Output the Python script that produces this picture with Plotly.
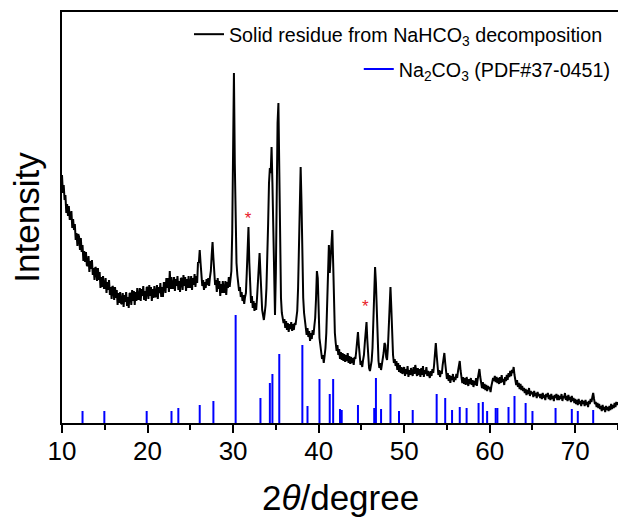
import plotly.graph_objects as go

# ---------------- data ----------------
# measured pattern, 2theta from 10.0 to 75.0 in 0.1 degree steps (intensity, arbitrary units)
intensity = [
    248, 230, 238, 223, 228, 210, 219, 207, 217, 204,   # 10
    204, 212, 195, 204, 193, 199, 183, 190, 177, 189,   # 11
    186, 173, 185, 171, 178, 162, 172, 161, 171, 158,   # 12
    157, 167, 151, 162, 154, 163, 148, 155, 143, 156,   # 13
    154, 142, 155, 143, 151, 135, 146, 136, 147, 135,   # 14
    135, 145, 130, 141, 133, 143, 128, 136, 124, 137,   # 15
    135, 123, 136, 125, 133, 118, 130, 120, 131, 120,   # 16
    119, 130, 116, 128, 121, 131, 117, 126, 115, 130,   # 17
    129, 118, 133, 122, 132, 118, 131, 122, 135, 124,   # 18
    124, 135, 122, 134, 127, 137, 123, 132, 122, 136,   # 19
    135, 124, 138, 127, 136, 122, 134, 125, 137, 126,   # 20
    127, 138, 124, 136, 130, 140, 126, 136, 126, 140,   # 21
    140, 130, 145, 135, 145, 131, 152, 134, 146, 135,   # 22
    135, 146, 132, 144, 137, 147, 133, 142, 131, 145,   # 23
    144, 133, 148, 137, 146, 132, 144, 135, 147, 136,   # 24
    136, 147, 133, 145, 138, 149, 136, 147, 140, 161,   # 25
    160, 173, 160, 146, 137, 143, 133, 141, 135, 144,   # 26
    138, 145, 137, 146, 152, 168, 181, 165, 148, 138,   # 27
    143, 131, 145, 134, 142, 127, 139, 130, 142, 131,   # 28
    131, 142, 128, 141, 135, 146, 136, 147, 152, 190,   # 29
    300, 350, 260, 190, 160, 148, 140, 132, 136, 126,   # 30
    131, 122, 128, 119, 126, 130, 150, 178, 196, 160,   # 31
    132, 120, 127, 115, 122, 112, 120, 113, 125, 140,   # 32
    160, 170, 150, 128, 113, 108, 103, 110, 118, 135,   # 33
    160, 200, 240, 255, 250, 276, 240, 180, 140, 108,   # 34
    150, 230, 300, 320, 250, 170, 125, 110, 104, 100,   # 35
    104, 95, 102, 93, 100, 91, 99, 94, 101, 92,         # 36
    99, 93, 100, 98, 105, 112, 135, 190, 240, 256,      # 37
    220, 160, 125, 110, 100, 95, 88, 95, 86, 92,        # 38
    82, 90, 84, 93, 88, 97, 105, 125, 152, 145,         # 39
    110, 85, 78, 70, 64, 68, 60, 67, 75, 90,            # 40
    120, 160, 178, 150, 165, 185, 193, 160, 115, 90,    # 41
    80, 72, 78, 68, 74, 64, 71, 63, 70, 62,             # 42
    69, 61, 68, 62, 70, 60, 67, 59, 66, 60,             # 43
    65, 58, 66, 64, 72, 85, 91, 78, 65, 58,             # 44
    62, 56, 63, 68, 80, 95, 101, 82, 62, 55,            # 45
    52, 58, 62, 75, 100, 135, 156, 140, 105, 75,        # 46
    62, 55, 60, 53, 58, 62, 70, 80, 78, 66,             # 47
    63, 75, 100, 128, 136, 115, 85, 68, 60, 64,         # 48
    57, 62, 53, 60, 51, 58, 50, 56, 49, 55,             # 49
    56, 47, 54, 49, 57, 46, 53, 48, 55, 50,             # 50
    47, 56, 49, 58, 52, 47, 55, 48, 54, 46,             # 51
    55, 48, 57, 46, 53, 49, 56, 47, 52, 49,             # 52
    45, 52, 47, 54, 50, 58, 70, 80, 68, 55,             # 53
    48, 53, 46, 52, 49, 58, 68, 70, 60, 50,             # 54
    44, 50, 42, 48, 40, 47, 43, 49, 41, 46,             # 55
    43, 49, 45, 52, 58, 62, 52, 45, 40, 46,             # 56
    39, 45, 38, 46, 41, 37, 44, 39, 45, 38,             # 57
    43, 36, 42, 38, 45, 37, 44, 50, 54, 46,             # 58
    40, 35, 41, 34, 39, 33, 38, 32, 37, 34,             # 59
    36, 31, 37, 40, 45, 42, 47, 41, 46, 40,             # 60
    45, 39, 46, 40, 48, 41, 44, 38, 46, 42,             # 61
    48, 43, 50, 46, 52, 47, 53, 50, 56, 48,             # 62
    42, 38, 43, 36, 40, 34, 39, 33, 37, 32,             # 63
    35, 30, 34, 28, 33, 29, 35, 27, 32, 29,             # 64
    31, 26, 32, 27, 30, 25, 31, 27, 29, 25,             # 65
    29, 24, 30, 25, 28, 23, 29, 26, 30, 24,             # 66
    28, 23, 29, 24, 27, 22, 28, 25, 29, 23,             # 67
    28, 23, 27, 24, 29, 22, 27, 25, 30, 23,             # 68
    27, 22, 28, 23, 26, 21, 27, 22, 25, 20,             # 69
    24, 19, 23, 18, 24, 19, 22, 17, 23, 19,             # 70
    22, 17, 23, 18, 21, 16, 22, 19, 24, 21,             # 71
    26, 30, 24, 19, 21, 16, 20, 15, 19, 14,             # 72
    17, 12, 18, 13, 16, 11, 17, 13, 16, 12,             # 73
    17, 13, 19, 14, 18, 15, 20, 16, 21, 18,             # 74
    21,                                                 # 75
]
two_theta = [round(10 + 0.1 * i, 1) for i in range(len(intensity))]

# reference stick pattern Na2CO3 (PDF#37-0451)
ref_pos = [12.4, 14.95, 19.9, 22.8, 23.6, 26.1, 27.7, 30.3, 33.2, 34.3, 34.6, 35.4,
           38.1, 38.7, 40.1, 41.3, 41.7, 42.5, 42.7, 44.6, 46.5, 46.7, 47.3, 48.4,
           49.4, 51.0, 53.8, 54.8, 55.6, 56.5, 57.3, 58.7, 59.2, 59.7, 60.7, 60.9,
           62.2, 62.9, 64.2, 65.0, 67.7, 69.6, 70.3, 72.1]
ref_int = [12, 12, 12, 12, 15, 18, 22, 108, 25, 40, 49, 69,
           78, 17, 44, 29, 44, 14, 13, 18, 15, 45, 14, 29,
           12, 13, 29, 25, 13, 16, 15, 20, 21, 12, 15, 15,
           16, 27, 20, 12, 15, 14, 12, 13]

# impurity markers (*)
star_pos = [31.75, 45.45]
star_int = [203, 115]

x_ticks = [10, 20, 30, 40, 50, 60, 70]
name_sample = "Solid residue from NaHCO<sub>3</sub> decomposition"
name_ref = "Na<sub>2</sub>CO<sub>3</sub> (PDF#37-0451)"
x_title = "2<i>θ</i>/degree"
y_title = "Intensity"

FONT = "Liberation Sans, Arial, sans-serif"

# build stick segments
stick_x, stick_y = [], []
for p, h in zip(ref_pos, ref_int):
    stick_x += [p, p, None]
    stick_y += [0, h, None]

fig = go.Figure()
fig.add_trace(go.Scatter(
    x=two_theta, y=intensity, mode="lines", name=name_sample,
    line=dict(color="black", width=2.0), legend="legend",
))
fig.add_trace(go.Scatter(
    x=stick_x, y=stick_y, mode="lines", name=name_ref,
    line=dict(color="#0000ff", width=2), legend="legend2",
))
fig.add_trace(go.Scatter(
    x=star_pos, y=star_int, mode="text", text=["*"] * len(star_pos),
    textfont=dict(color="#e8202a", size=17, family=FONT), showlegend=False,
))

fig.update_layout(
    width=618, height=519,
    margin=dict(l=62, r=0, t=12, b=96, pad=0),
    paper_bgcolor="white", plot_bgcolor="white",
    font=dict(family=FONT, color="black"),
    legend=dict(x=0.982, xanchor="right", y=0.993, yanchor="top",
                bgcolor="rgba(0,0,0,0)", borderwidth=0,
                font=dict(size=19.7, family=FONT, color="black")),
    legend2=dict(x=0.996, xanchor="right", y=0.908, yanchor="top",
                 bgcolor="rgba(0,0,0,0)", borderwidth=0,
                 font=dict(size=19.7, family=FONT, color="black")),
    annotations=[dict(text=x_title, xref="paper", yref="paper", x=0.5, y=0,
                      xanchor="center", yanchor="top", yshift=-53, showarrow=False,
                      font=dict(size=35, family=FONT, color="black"))],
)
fig.update_xaxes(
    range=[10, 75], tickvals=x_ticks, ticks="outside", ticklen=8, tickwidth=1.5,
    tickcolor="black", showline=True, linecolor="black", linewidth=1.5, mirror=True,
    showgrid=False, zeroline=False, ticklabelstandoff=-4,
    minor=dict(dtick=5, tick0=10, ticks="outside", ticklen=5, tickwidth=1.5, tickcolor="black", showgrid=False),
    tickfont=dict(size=26, family=FONT, color="black"),
)
fig.update_yaxes(
    range=[0, 411], showticklabels=False, ticks="", showline=True, linecolor="black",
    linewidth=1.5, showgrid=False, zeroline=False,
    title=dict(text=y_title, font=dict(size=35, family=FONT, color="black"), standoff=10),
)

fig.write_html("out.html")
